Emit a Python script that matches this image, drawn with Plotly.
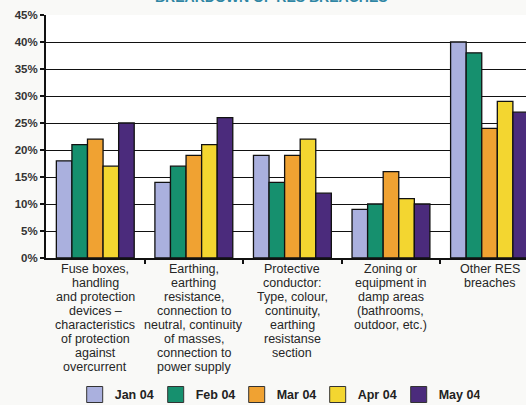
import plotly.graph_objects as go

categories = [
    "Fuse boxes,\nhandling\nand protection\ndevices –\ncharacteristics\nof protection\nagainst\novercurrent",
    "Earthing,\nearthing\nresistance,\nconnection to\nneutral, continuity\nof masses,\nconnection to\npower supply",
    "Protective\nconductor:\nType, colour,\ncontinuity,\nearthing\nresistanse\nsection",
    "Zoning or\nequipment in\ndamp areas\n(bathrooms,\noutdoor, etc.)",
    "Other RES\nbreaches",
]
series_names = ["Jan 04", "Feb 04", "Mar 04", "Apr 04", "May 04"]
jan = [18, 14, 19, 9, 40]
feb = [21, 17, 14, 10, 38]
mar = [22, 19, 19, 16, 24]
apr = [17, 21, 22, 11, 29]
may = [25, 26, 12, 10, 27]
series_values = [jan, feb, mar, apr, may]
colors = ["#aab0de", "#16906e", "#f0a232", "#f3d630", "#4b2b7c"]
y_ticks = [0, 5, 10, 15, 20, 25, 30, 35, 40, 45]
y_tick_labels = [f"{v}%" for v in y_ticks]

xpos = list(range(len(categories)))
FONT = "Arial, Liberation Sans, sans-serif"

fig = go.Figure()
for name, vals, col in zip(series_names, series_values, colors):
    fig.add_trace(go.Bar(
        x=xpos, y=vals, name=name, showlegend=False,
        marker=dict(color=col, line=dict(color="#111111", width=1.3)),
    ))
for name, col in zip(series_names, colors):
    fig.add_trace(go.Scatter(
        x=[None], y=[None], mode="markers", name=name,
        marker=dict(symbol="square", size=16, color=col,
                    line=dict(color="#333333", width=1)),
    ))

annotations = [dict(
    text="BREAKDOWN OF RES BREACHES", xref="paper", yref="paper",
    x=0.47, y=1, xanchor="center", yanchor="bottom", yshift=8,
    showarrow=False, font=dict(size=14, color="#2f86a4", family=FONT, weight="bold"),
)]
LINE_H = 14.0
for i, label in enumerate(categories):
    for k, line in enumerate(label.split("\n")):
        annotations.append(dict(
            text=line, xref="x", yref="paper", x=i, y=0,
            xanchor="center", yanchor="top", yshift=-3 - k * LINE_H,
            showarrow=False, font=dict(size=12.5, color="#262626", family=FONT),
            borderpad=0,
        ))

fig.update_layout(
    width=526, height=405,
    margin=dict(l=46, r=0, t=15, b=147, autoexpand=False),
    paper_bgcolor="#f9f9f7",
    plot_bgcolor="#ffffff",
    barmode="group",
    bargap=0.21,
    bargroupgap=0,
    font=dict(family=FONT, color="#333333"),
    legend=dict(
        orientation="h", x=0.142, xref="container", xanchor="left",
        y=0.025, yref="container", yanchor="middle",
        font=dict(size=12.5, color="#222222", family=FONT, weight="bold"),
        entrywidth=36, entrywidthmode="pixels", itemwidth=30,
        bgcolor="rgba(0,0,0,0)",
    ),
    annotations=annotations,
)

fig.update_xaxes(
    range=[-0.5, 4.37],
    tickvals=xpos, showticklabels=False,
    ticks="",
    showline=True, linecolor="#111111", linewidth=2,
    showgrid=False, zeroline=False,
    minor=dict(tickvals=[0.5, 1.5, 2.5, 3.5], ticks="outside",
               ticklen=4, tickcolor="#111111", tickwidth=1.5, showgrid=False),
)
fig.update_yaxes(
    range=[0, 45], tickvals=y_ticks, ticktext=y_tick_labels,
    ticks="outside", ticklen=4, tickcolor="#111111", tickwidth=1.5,
    tickfont=dict(size=11.5, color="#333333", family=FONT, weight="bold"),
    showline=True, linecolor="#111111", linewidth=2,
    showgrid=True, gridcolor="#111111", gridwidth=1.4,
    zeroline=False,
)

fig.write_html("out.html")
